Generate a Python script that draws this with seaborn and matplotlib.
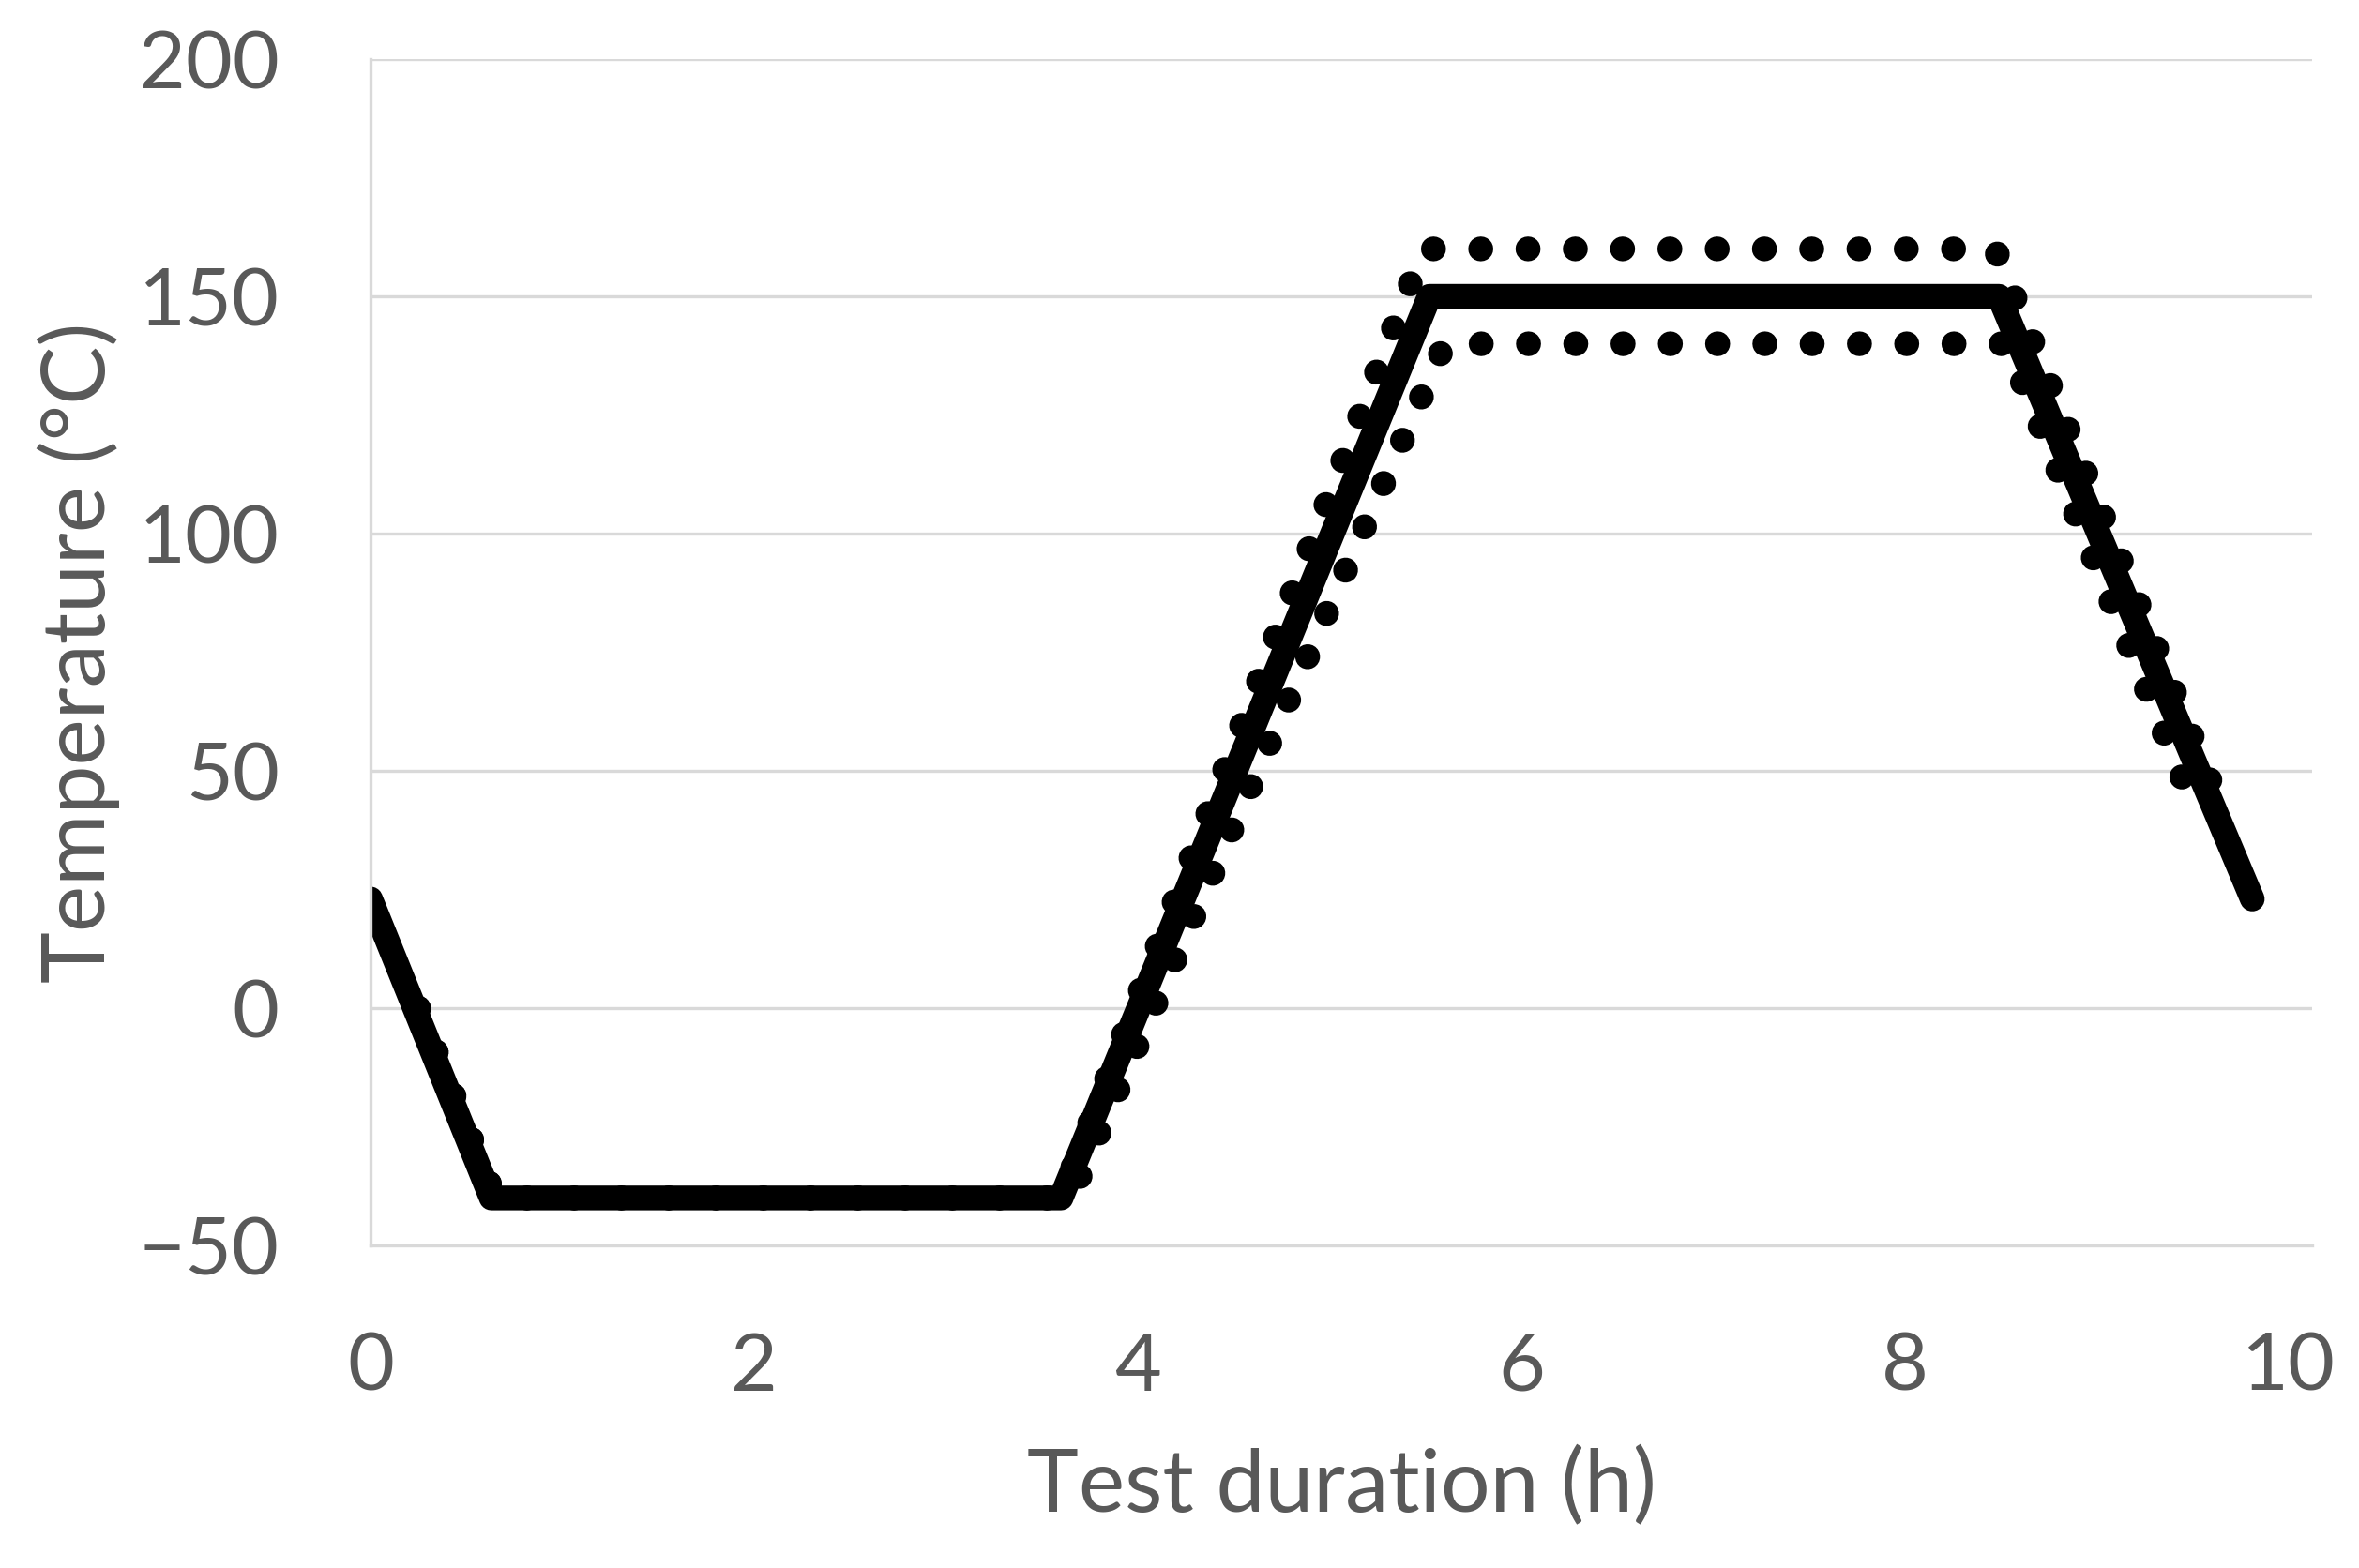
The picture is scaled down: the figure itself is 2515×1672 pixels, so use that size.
import numpy as np
import pandas as pd
import matplotlib
matplotlib.use("Agg")
import matplotlib.pyplot as plt
import seaborn as sns

# set-point profile (solid) and the +/- tolerance band (dotted)
time_set = [0.0, 0.63, 3.6, 5.52, 8.49, 9.81]
temp_set = [23, -40, -40, 150, 150, 23]

time_upper = [0.25, 0.65, 3.6, 5.49, 8.47, 9.6]
temp_upper = [0, -40, -40, 160, 160, 47]

time_lower = [0.25, 0.65, 3.65, 5.6, 8.53, 9.5]
temp_lower = [0, -40, -40, 140, 140, 43]

x_ticks = [0, 2, 4, 6, 8, 10]
y_ticks = [-50, 0, 50, 100, 150, 200]

sns.set_style("white")
plt.rcParams["font.family"] = ["Lato", "DejaVu Sans"]

text_col = "#595959"
grid_col = "#d9d9d9"

fig = plt.figure(figsize=(12.575, 8.36), dpi=200)
ax = fig.add_axes([0.15706, 0.20574, 0.82306, 0.75658])

dot_style = dict(color="black", linewidth=9.5, linestyle=(0, (0.01, 1.9)),
                 dash_capstyle="round", sort=False, estimator=None)
sns.lineplot(x=time_upper, y=temp_upper, ax=ax, **dot_style)
sns.lineplot(x=time_lower, y=temp_lower, ax=ax, **dot_style)
sns.lineplot(x=time_set, y=temp_set, ax=ax, color="black", linewidth=9.5,
             solid_capstyle="round", solid_joinstyle="round",
             sort=False, estimator=None)

ax.set_xlim(0, 10.122)
ax.set_ylim(-50, 200)
ax.set_xticks(x_ticks)
ax.set_yticks(y_ticks)

ax.yaxis.grid(True, color=grid_col, lw=1.2)
ax.xaxis.grid(False)
for side in ["top", "right"]:
    ax.spines[side].set_visible(False)
for side in ["left", "bottom"]:
    ax.spines[side].set_color(grid_col)
    ax.spines[side].set_linewidth(1.2)

ax.tick_params(axis="both", length=0, labelsize=31, labelcolor=text_col)
ax.tick_params(axis="y", pad=35)
ax.tick_params(axis="x", pad=33)

ax.set_xlabel("Test duration (h)", fontsize=33.5, color=text_col, labelpad=16)
ax.set_ylabel("Temperature (°C)", fontsize=33.5, color=text_col, labelpad=7)

fig.savefig("out.png", dpi=200, facecolor="white")
